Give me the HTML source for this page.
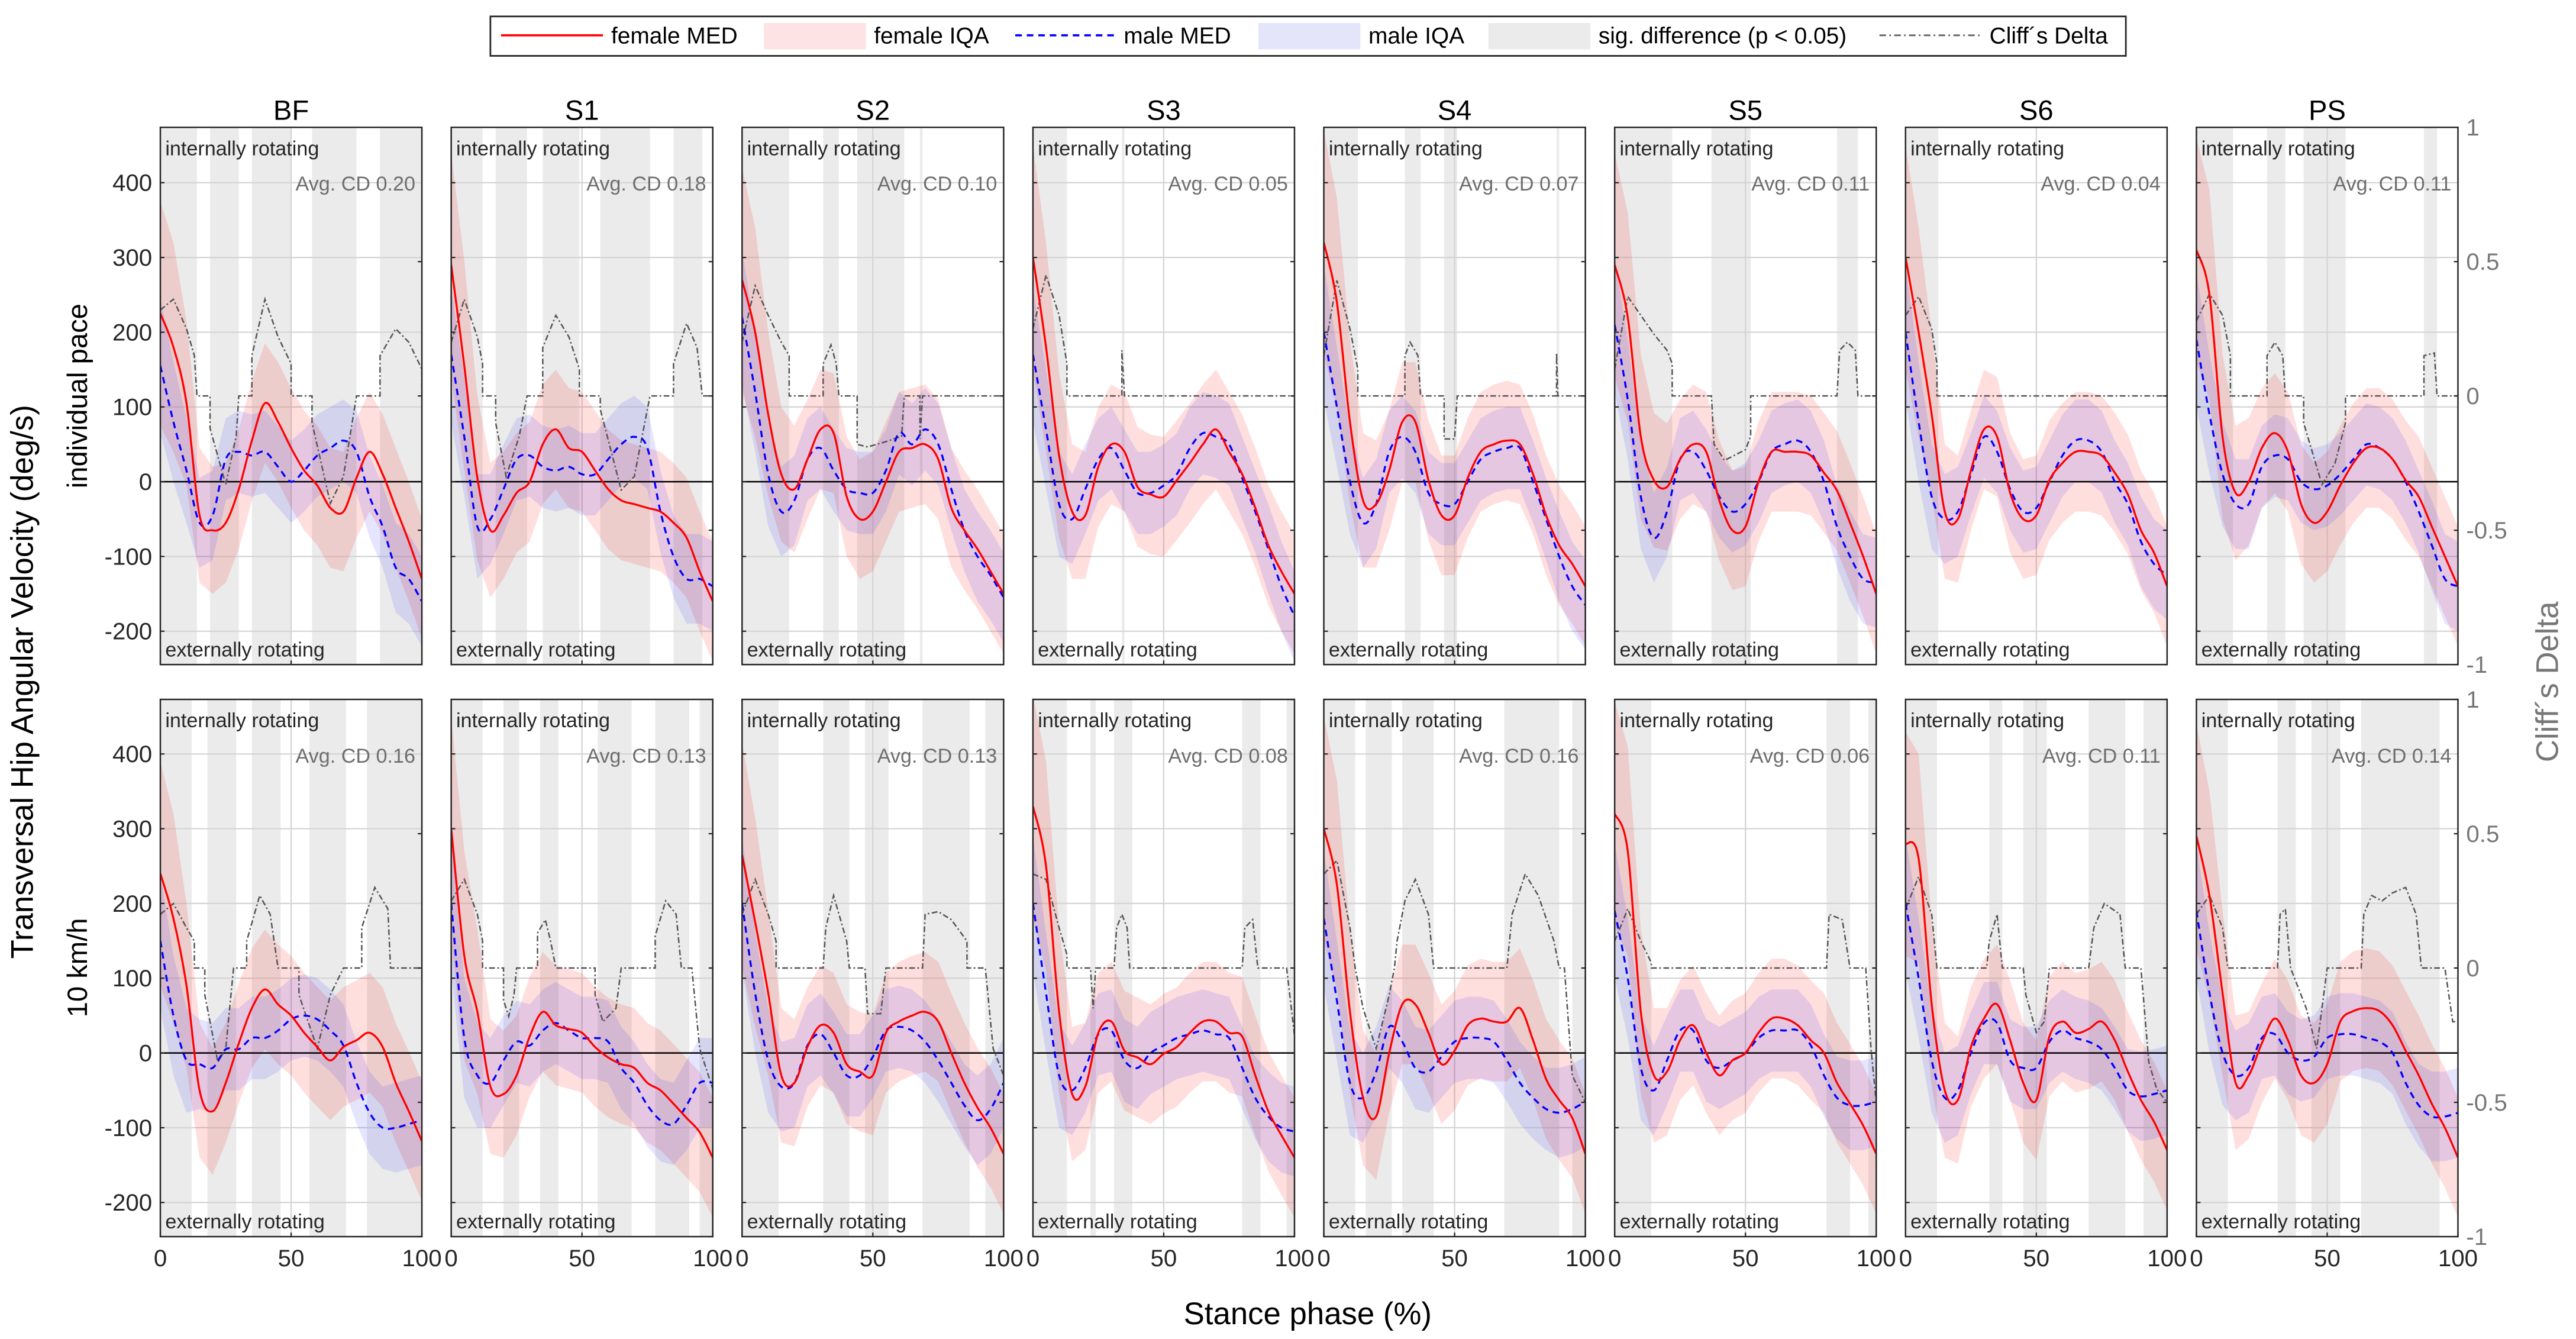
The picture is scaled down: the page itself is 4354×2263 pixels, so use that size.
<!DOCTYPE html>
<html><head><meta charset="utf-8"><style>
html,body{margin:0;padding:0;background:#fff;}
svg{display:block;font-family:"Liberation Sans",Arial,sans-serif;}
</style></head><body>
<svg id="chart" width="4354" height="2263" viewBox="0 0 1568 815" preserveAspectRatio="none" xmlns="http://www.w3.org/2000/svg">
<rect x="0" y="0" width="1568" height="815" fill="#fff"/>
<g id="legend">
<rect x="298.5" y="10" width="995.5" height="24" fill="#fff" stroke="#262626" stroke-width="1"/>
<line x1="305" y1="21.5" x2="367" y2="21.5" stroke="#ff0000" stroke-width="1.3"/>
<text x="372" y="26.5" font-size="14" fill="#000">female MED</text>
<rect x="465" y="14" width="62" height="16" fill="#fde3e3"/>
<text x="532" y="26.5" font-size="14" fill="#000">female IQA</text>
<line x1="618" y1="21.5" x2="678" y2="21.5" stroke="#0000ff" stroke-width="1.3" stroke-dasharray="4,3"/>
<text x="684" y="26.5" font-size="14" fill="#000">male MED</text>
<rect x="766" y="14" width="62" height="16" fill="#e4e4fb"/>
<text x="833" y="26.5" font-size="14" fill="#000">male IQA</text>
<rect x="906" y="14" width="62" height="16" fill="#ebebeb"/>
<text x="973" y="26.5" font-size="14" fill="#000">sig. difference (p &lt; 0.05)</text>
<line x1="1144" y1="21.5" x2="1205" y2="21.5" stroke="#666" stroke-width="1" stroke-dasharray="4,2,1,2"/>
<text x="1211" y="26.5" font-size="14" fill="#000">Cliff´s Delta</text>
</g>
<text x="20" y="415" font-size="19" text-anchor="middle" transform="rotate(-90 20 415)">Transversal Hip Angular Velocity (deg/s)</text>
<text x="53" y="241" font-size="17" text-anchor="middle" transform="rotate(-90 53 241)">individual pace</text>
<text x="53" y="589" font-size="17" text-anchor="middle" transform="rotate(-90 53 589)">10  km/h</text>
<text x="1557" y="415" font-size="19" fill="#777" text-anchor="middle" transform="rotate(-90 1557 415)">Cliff´s Delta</text>
<text x="796" y="806" font-size="19" text-anchor="middle">Stance phase (%)</text>
</svg>
<script>
const titles = ["BF","S1","S2","S3","S4","S5","S6","PS"];
const X = [0,5,10,15,20,25,30,35,40,45,50,55,60,65,70,75,80,85,90,95,100];
const yTicks = [400,300,200,100,0,-100,-200];
const cdTicks = [1,0.5,0,-0.5,-1];
const cdTickLabels = ["1","0.5","0","-0.5","-1"];
const xTicks = [0,50,100];
const avgCD1 = ["0.20","0.18","0.10","0.05","0.07","0.11","0.04","0.11"];
const avgCD2 = ["0.16","0.13","0.13","0.08","0.16","0.06","0.11","0.14"];
const fSpread = [150,140,110,90,85,80,80,80,80,80,80,80,80,80,80,80,80,80,80,80,80];
const mSpread = [90,80,70,60,60,55,55,55,55,55,55,55,55,55,55,55,55,55,60,60,60];
const fMed1 = [
[225,180,105,-45,-65,-55,-10,55,105,80,45,15,-5,-35,-40,5,40,10,-35,-80,-130],
[290,155,5,-65,-45,-15,0,50,70,45,40,15,-10,-25,-30,-35,-40,-55,-75,-120,-160],
[270,200,90,10,-10,30,70,65,-20,-50,-40,0,40,45,50,30,-35,-65,-90,-120,-150],
[300,180,35,-40,-45,20,50,40,-7,-17,-20,2,25,50,70,40,10,-35,-85,-120,-150],
[320,240,80,-25,-30,15,80,80,2,-45,-45,5,40,50,55,50,10,-45,-85,-110,-140],
[290,220,60,2,-7,30,50,40,-25,-65,-60,0,40,40,40,35,12,-12,-55,-100,-150],
[300,200,90,-40,-50,15,70,60,-15,-50,-45,2,25,40,40,35,12,-17,-65,-95,-140],
[310,250,60,-15,0,45,65,40,-30,-55,-40,-5,25,45,45,30,2,-20,-60,-100,-140]];
const mMed1 = [
[155,80,15,-55,-45,30,40,35,40,20,0,15,35,45,55,40,-20,-60,-115,-130,-160],
[170,60,-60,-50,-10,30,35,20,15,20,10,10,30,50,60,45,-40,-100,-130,-130,-140],
[220,120,10,-40,-25,30,45,15,-10,-15,-15,15,65,50,70,50,-10,-65,-100,-125,-155],
[170,70,-30,-50,-10,30,45,15,-15,-15,-5,10,45,65,60,50,5,-40,-90,-140,-180],
[200,100,0,-55,-30,40,60,40,-15,-30,-30,0,30,40,45,45,0,-50,-100,-140,-165],
[210,110,-20,-75,-40,30,40,15,-20,-40,-30,0,40,50,55,40,0,-60,-100,-130,-135],
[200,80,-20,-50,-40,10,60,40,-10,-40,-35,0,35,55,55,40,0,-30,-80,-110,-125],
[190,90,10,-30,-30,20,35,30,0,-10,-5,10,30,50,45,30,0,-40,-85,-130,-140]];
const fMed2 = [
[240,180,90,-50,-78,-40,13,60,85,65,50,27,8,-10,8,17,27,8,-40,-78,-118],
[300,130,55,-45,-55,-30,22,55,37,32,27,8,-6,-15,-20,-40,-50,-68,-87,-106,-140],
[265,175,80,-30,-40,8,37,27,-15,-25,-30,27,42,50,55,42,0,-40,-73,-100,-135],
[330,250,55,-55,-45,27,42,3,-6,-15,-1,8,27,42,42,27,22,-30,-78,-110,-140],
[300,225,55,-60,-85,0,65,65,27,-15,3,37,46,42,42,60,17,-35,-63,-87,-135],
[320,270,55,-30,-25,17,37,0,-30,-10,0,27,46,46,37,17,0,-40,-68,-97,-135],
[280,260,65,-50,-63,8,46,65,17,-40,-63,22,42,27,32,42,17,-25,-63,-92,-130],
[290,210,80,-40,-30,13,46,17,-30,-40,-15,42,56,60,56,37,3,-30,-68,-100,-140]];
const mMed2 = [
[150,50,-10,-15,-20,5,5,20,20,30,45,50,45,30,10,-40,-80,-100,-100,-95,-90],
[200,20,-30,-40,-10,15,10,30,40,30,20,20,15,-20,-40,-70,-90,-95,-70,-40,-40],
[200,80,-10,-45,-40,10,25,0,-30,-30,-5,30,35,30,15,-10,-40,-70,-90,-75,-40],
[200,80,-30,-50,-20,25,30,-10,-20,0,10,20,25,30,25,20,-20,-60,-85,-100,-105],
[180,70,-40,-60,-25,35,15,-20,-25,-5,15,20,20,15,-10,-40,-60,-75,-80,-75,-65],
[190,100,-20,-50,-10,30,30,-10,-20,-10,0,20,30,30,30,10,-30,-60,-70,-70,-65],
[200,100,-10,-60,-50,0,40,40,-10,-20,-20,15,30,20,15,5,-20,-50,-58,-55,-50],
[190,80,0,-30,-20,20,25,0,-10,-5,20,25,25,20,15,0,-40,-70,-85,-85,-80]];
const cd1 = [
[[0,0.32],[5,0.36],[10,0.25],[13,0.15],[14,0],[19,0],[19,-0.12],[25,-0.33],[29,-0.15],[30,0],[35,0],[35,0.15],[40,0.36],[45,0.22],[50,0.12],[50,0],[58,0],[58,-0.1],[65,-0.4],[70,-0.3],[75,0],[84,0],[84,0.15],[90,0.25],[95,0.2],[100,0.1],[100,0]],
[[0,0.2],[5,0.36],[10,0.22],[12,0.12],[12,0],[17,0],[17,-0.1],[21,-0.3],[26,-0.15],[29,0],[35,0],[35,0.18],[40,0.3],[45,0.22],[49,0.1],[49,0],[57,0],[57,-0.05],[65,-0.35],[70,-0.3],[76,0],[85,0],[85,0.12],[90,0.27],[94,0.18],[96,0],[100,0]],
[[0,0.2],[5,0.41],[10,0.3],[15,0.2],[18,0.15],[18,0],[31,0],[31,0.12],[34,0.19],[36,0.12],[37,0],[44,0],[44,-0.18],[48,-0.19],[55,-0.17],[61,-0.15],[62,0],[68,0],[68,-0.16],[69,0],[100,0]],
[[0,0.25],[5,0.45],[10,0.3],[13,0.12],[13,0],[34,0],[34,0.17],[35,0],[100,0]],
[[0,0.15],[5,0.43],[10,0.25],[13,0.1],[13,0],[31,0],[31,0.15],[33,0.2],[36,0.15],[37,0],[46,0],[46,-0.16],[50,-0.16],[51,0],[89,0],[89,0.16],[89.5,0],[100,0]],
[[0,0.1],[5,0.37],[10,0.3],[15,0.23],[20,0.17],[22,0.12],[22,0],[37,0],[38,-0.18],[42,-0.24],[50,-0.2],[52,-0.15],[52,0],[85,0],[86,0.17],[89,0.2],[92,0.17],[93,0],[100,0]],
[[0,0.3],[5,0.37],[10,0.25],[12,0.12],[12,0],[100,0]],
[[0,0.28],[5,0.38],[10,0.3],[13,0.15],[13,0],[27,0],[27,0.15],[30,0.2],[33,0.15],[34,0],[41,0],[41,-0.1],[48,-0.33],[53,-0.25],[57,-0.1],[57,0],[87,0],[87,0.15],[91,0.16],[92,0],[100,0]]];
const cd2 = [
[[0,0.2],[5,0.24],[10,0.15],[13,0.1],[13,0],[17,0],[17,-0.1],[22,-0.35],[25,-0.3],[28,0],[33,0],[33,0.1],[38,0.27],[42,0.2],[45,0],[53,0],[53,-0.1],[60,-0.3],[65,-0.1],[70,0],[77,0],[77,0.15],[82,0.3],[87,0.22],[88,0],[100,0]],
[[0,0.25],[5,0.33],[10,0.2],[12,0.1],[12,0],[20,0],[20,-0.12],[22,-0.18],[24,-0.1],[25,0],[33,0],[33,0.13],[36,0.18],[38,0.1],[40,0],[55,0],[55,-0.1],[58,-0.2],[63,-0.15],[65,0],[78,0],[78,0.12],[82,0.25],[86,0.2],[88,0],[92,0],[95,-0.3],[100,-0.45]],
[[0,0.2],[5,0.33],[10,0.2],[13,0.1],[13,0],[31,0],[32,0.15],[35,0.27],[40,0.1],[41,0],[47,0],[48,-0.17],[53,-0.17],[55,0],[69,0],[70,0.2],[75,0.21],[80,0.18],[86,0.1],[86,0],[93,0],[96,-0.3],[100,-0.4]],
[[0,0.35],[5,0.33],[10,0.15],[13,0.05],[13,0],[22,0],[23,-0.15],[24,0],[31,0],[32,0.15],[34,0.2],[36,0.15],[37,0],[80,0],[81,0.15],[84,0.18],[86,0],[97,0],[100,-0.25]],
[[0,0.35],[5,0.4],[10,0.15],[12,0],[15,-0.15],[20,-0.3],[25,-0.1],[27,0],[28,0.1],[31,0.25],[35,0.33],[40,0.2],[42,0],[70,0],[72,0.2],[77,0.35],[82,0.27],[88,0.1],[90,0],[92,0],[95,-0.4],[100,-0.5]],
[[0,0.1],[5,0.22],[10,0.1],[14,0.02],[14,0],[81,0],[82,0.2],[87,0.18],[90,0],[96,0],[98,-0.3],[100,-0.5]],
[[0,0.22],[5,0.34],[10,0.2],[12,0],[31,0],[32,0.1],[35,0.2],[37,0],[45,0],[46,-0.1],[50,-0.24],[53,-0.2],[55,0],[70,0],[72,0.15],[76,0.24],[82,0.2],[84,0],[90,0],[93,-0.35],[96,-0.45],[100,-0.5]],
[[0,0.2],[5,0.27],[10,0.15],[12,0],[31,0],[32,0.2],[34,0.22],[36,0],[42,-0.15],[46,-0.3],[50,0],[63,0],[64,0.2],[67,0.27],[71,0.25],[75,0.28],[80,0.3],[84,0.2],[86,0],[95,0],[98,-0.2],[100,-0.2]]];
const sig1 = [
[[0,14],[19,30],[35,50],[58,75],[84,100]],
[[0,12],[17,29],[35,49],[57,76],[85,96]],
[[0,18],[31,37],[44,62],[68,69]],
[[0,13],[34,35]],
[[0,13],[31,37],[46,51],[89,90]],
[[0,22],[37,52],[85,93]],
[[0,12.5]],
[[0,14],[27,34],[41,57],[87,92]]];
const sig2 = [
[[0,12],[18,29],[35,46],[57,71],[79,100]],
[[0,12],[20,26],[34,41],[56,69],[78,91],[95,100]],
[[0,14],[31,41],[47,56],[69,87],[93,100]],
[[0,13],[22,24],[31,38],[80,87],[97,100]],
[[0,12],[16,26],[30,42],[69,90],[95,100]],
[[0,14],[81,90],[97,100]],
[[0,12],[32,37],[45,54],[70,84],[91,100]],
[[0,12],[31,38],[44,55],[63,93]]];

const NS = "http://www.w3.org/2000/svg";
const svg = document.getElementById("chart");
const panelLeft0 = 97.6, panelStep = 177.05, panelW = 159.2;
const rowTop = [77.5, 425.7], rowBot = [404.5, 752.7], rowZero = [293.2, 640.9];
const pxPer100 = 45.5;
function mk(tag, attrs, parent){const e=document.createElementNS(NS,tag);for(const k in attrs)e.setAttribute(k,attrs[k]);(parent||svg).appendChild(e);return e;}
function smoothPath(pts){let d="M"+pts[0][0].toFixed(2)+","+pts[0][1].toFixed(2);
 for(let i=0;i<pts.length-1;i++){const p0=pts[Math.max(0,i-1)],p1=pts[i],p2=pts[i+1],p3=pts[Math.min(pts.length-1,i+2)];
 const c1x=p1[0]+(p2[0]-p0[0])/6,c1y=p1[1]+(p2[1]-p0[1])/6,c2x=p2[0]-(p3[0]-p1[0])/6,c2y=p2[1]-(p3[1]-p1[1])/6;
 d+=" C"+c1x.toFixed(2)+","+c1y.toFixed(2)+" "+c2x.toFixed(2)+","+c2y.toFixed(2)+" "+p2[0].toFixed(2)+","+p2[1].toFixed(2);}
 return d;}
function linePath(pts){return pts.map((p,i)=>(i?"L":"M")+p[0].toFixed(2)+","+p[1].toFixed(2)).join(" ");}

for(let r=0;r<2;r++){
 const fMed=r?fMed2:fMed1, mMed=r?mMed2:mMed1, cd=r?cd2:cd1, sig=r?sig2:sig1, avg=r?avgCD2:avgCD1;
 const top=rowTop[r], bot=rowBot[r], zero=rowZero[r], h=bot-top;
 for(let p=0;p<8;p++){
  const left=panelLeft0+p*panelStep, right=left+panelW;
  const xs=v=>left+v/100*panelW;
  const ys=v=>zero-v/100*pxPer100;
  const yc=v=>(top+bot)/2-v*h/2;
  const g=mk("g",{});
  
  
  const cid="clip"+r+"_"+p;
  const cp=mk("clipPath",{id:cid},g); mk("rect",{x:left,y:top,width:panelW,height:h},cp);
  const inner=mk("g",{"clip-path":"url(#"+cid+")"},g);
  sig[p].forEach(iv=>{const s=mk("rect",{x:xs(iv[0]),y:top,width:Math.max(0.8,xs(iv[1])-xs(iv[0])),height:h,fill:"#ebebeb"},inner);
   
   });
  yTicks.forEach(t=>{mk("line",{x1:left,x2:right,y1:ys(t),y2:ys(t),stroke:"#d4d4d4","stroke-width":0.8},inner);});
  mk("line",{x1:xs(50),x2:xs(50),y1:top,y2:bot,stroke:"#d4d4d4","stroke-width":0.8},inner);
  const fUp=X.map((x,i)=>[xs(x),ys(fMed[p][i]+fSpread[i])]), fLo=X.map((x,i)=>[xs(x),ys(fMed[p][i]-fSpread[i])]).reverse();
  const fb=mk("path",{d:linePath(fUp.concat(fLo))+"Z",fill:"#ff0000","fill-opacity":0.13},inner);
  
  
  const mUp=X.map((x,i)=>[xs(x),ys(mMed[p][i]+mSpread[i])]), mLo=X.map((x,i)=>[xs(x),ys(mMed[p][i]-mSpread[i])]).reverse();
  const mb=mk("path",{d:linePath(mUp.concat(mLo))+"Z",fill:"#0000ff","fill-opacity":0.1},inner);
  
  
  mk("line",{x1:left,x2:right,y1:ys(0),y2:ys(0),stroke:"#000","stroke-width":0.9},inner);
  const cl=mk("path",{d:linePath(cd[p].map(q=>[xs(q[0]),yc(q[1])])),fill:"none",stroke:"#555","stroke-width":0.9,"stroke-dasharray":"3.5,1.5,1,1.5"},inner);
  
  
  const ml=mk("path",{d:smoothPath(X.map((x,i)=>[xs(x),ys(mMed[p][i])])),fill:"none",stroke:"#0000ff","stroke-width":1.2,"stroke-dasharray":"4,3"},inner);
  
  
  const fl=mk("path",{d:smoothPath(X.map((x,i)=>[xs(x),ys(fMed[p][i])])),fill:"none",stroke:"#ff0000","stroke-width":1.2},inner);
  
  
  yTicks.forEach(t=>{mk("line",{x1:left,x2:left+2.5,y1:ys(t),y2:ys(t),stroke:"#262626","stroke-width":0.8},g);});
  cdTicks.forEach(t=>{mk("line",{x1:right-2.5,x2:right,y1:yc(t),y2:yc(t),stroke:"#262626","stroke-width":0.8},g);});
  xTicks.forEach(t=>{mk("line",{x1:xs(t),x2:xs(t),y1:bot,y2:bot-2.5,stroke:"#262626","stroke-width":0.8},g);});
  mk("rect",{x:left,y:top,width:panelW,height:h,fill:"none",stroke:"#262626","stroke-width":0.9},g);
  const t1=mk("text",{x:left+3,y:top+17,"font-size":12.3,fill:"#262626"},g); t1.textContent="internally rotating";
  
  
  const t2=mk("text",{x:left+3,y:bot-5,"font-size":12.3,fill:"#262626"},g); t2.textContent="externally rotating";
  
  
  const t3=mk("text",{x:right-4,y:top+38.5,"font-size":12.3,fill:"#6e6e6e","text-anchor":"end"},g); t3.textContent="Avg. CD "+avg[p];
  
  
  if(r===0){const tt=mk("text",{x:left+panelW/2,y:73,"font-size":17,"text-anchor":"middle",fill:"#000"}); tt.textContent=titles[p];
   
   }
  if(p===0){yTicks.forEach(t=>{const tl=mk("text",{x:left-5,y:ys(t)+5,"font-size":14.5,"text-anchor":"end",fill:"#262626"}); tl.textContent=String(t);
   
   });}
  if(p===7){cdTicks.forEach((t,i)=>{const tl=mk("text",{x:right+5,y:yc(t)+5,"font-size":14.5,fill:"#777"}); tl.textContent=cdTickLabels[i];
   
   });}
  if(r===1){xTicks.forEach(t=>{const tl=mk("text",{x:xs(t),y:bot+18,"font-size":14.5,"text-anchor":"middle",fill:"#262626"}); tl.textContent=String(t);
   
   });}
 }
}
</script>
</body></html>
